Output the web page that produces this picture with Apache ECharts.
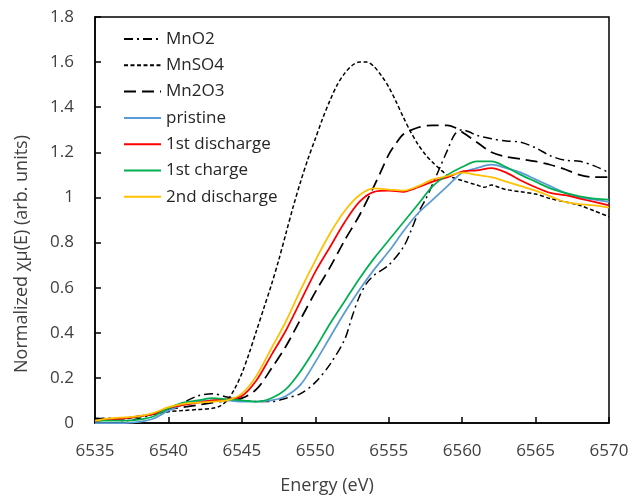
<!DOCTYPE html>
<html>
<head>
<meta charset="utf-8">
<script src="https://cdn.jsdelivr.net/npm/echarts@6/dist/echarts.min.js"></script>
<style>html,body{margin:0;padding:0;background:#fff;}#c{width:633px;height:496px;}</style>
</head>
<body>
<div id="c"></div>
<script>
var seriesNames = ['MnO2', 'MnSO4', 'Mn2O3', 'pristine', '1st discharge', '1st charge', '2nd discharge'];
var xTicks = [6535, 6540, 6545, 6550, 6555, 6560, 6565, 6570];
var yTicks = [0, 0.2, 0.4, 0.6, 0.8, 1, 1.2, 1.4, 1.6, 1.8];
var xTitle = 'Energy (eV)';
var yTitle = 'Normalized χμ(E) (arb. units)';

var energyMnO2 = [6535,6536,6537,6538,6539,6540,6541,6542,6543,6544,6545,6546,6547,6548,6549,6550,6551,6552,6552.5,6553,6553.5,6554,6555,6556,6556.5,6557,6557.5,6558,6558.5,6559,6559.5,6560,6560.5,6561,6562,6563,6564,6565,6566,6567,6568,6569,6570];
var valMnO2 = [0.02,0.02,0.01,0.02,0.04,0.06,0.09,0.12,0.13,0.115,0.10,0.095,0.095,0.11,0.13,0.18,0.26,0.37,0.47,0.56,0.62,0.655,0.70,0.78,0.85,0.93,0.99,1.06,1.135,1.21,1.28,1.30,1.29,1.275,1.26,1.25,1.245,1.22,1.185,1.165,1.16,1.14,1.11];

var energyMnSO4 = [6535,6536,6537,6538,6539,6540,6541,6542,6543,6543.5,6544,6544.5,6545,6545.5,6546,6546.5,6547,6547.5,6548,6548.5,6549,6549.5,6550,6550.5,6551,6551.5,6552,6552.5,6553,6553.5,6554,6554.5,6555,6555.5,6556,6556.5,6557,6557.5,6558,6558.5,6559,6559.5,6560,6561,6561.5,6562,6562.5,6563,6564,6565,6566,6567,6568,6569,6570];
var valMnSO4 = [0.02,0.02,0.02,0.03,0.04,0.05,0.055,0.06,0.065,0.075,0.10,0.15,0.22,0.31,0.41,0.51,0.61,0.72,0.84,0.96,1.07,1.17,1.26,1.35,1.43,1.50,1.55,1.585,1.60,1.60,1.58,1.54,1.49,1.425,1.355,1.29,1.235,1.19,1.155,1.125,1.098,1.085,1.075,1.055,1.045,1.055,1.045,1.035,1.025,1.015,0.995,0.98,0.965,0.94,0.915];

var energyMn2O3 = [6535,6537,6539,6540,6541,6542,6543,6544,6545,6546,6547,6548,6549,6550,6551,6552,6553,6554,6554.5,6555,6555.5,6556,6557,6558,6559,6559.5,6560,6561,6562,6563,6564,6565,6566,6567,6568,6569,6570];
var valMn2O3 = [0.01,0.02,0.04,0.06,0.07,0.08,0.09,0.10,0.11,0.15,0.24,0.34,0.46,0.58,0.69,0.81,0.92,1.05,1.12,1.19,1.24,1.28,1.31,1.32,1.32,1.31,1.29,1.245,1.20,1.18,1.17,1.16,1.145,1.125,1.10,1.09,1.09];

var energy = [6535,6536,6537,6538,6539,6540,6541,6542,6543,6544,6545,6546,6547,6548,6549,6550,6551,6552,6553,6554,6555,6556,6557,6558,6559,6560,6561,6562,6563,6564,6565,6566,6567,6568,6569,6570];
var valPristine = [0.0,0.0,0.0,0.005,0.02,0.055,0.08,0.095,0.10,0.10,0.095,0.095,0.10,0.12,0.17,0.27,0.38,0.49,0.59,0.68,0.76,0.85,0.93,0.99,1.05,1.11,1.13,1.145,1.13,1.11,1.08,1.05,1.02,1.00,0.99,0.98];
var val1stDischarge = [0.01,0.015,0.02,0.03,0.04,0.065,0.08,0.09,0.10,0.105,0.12,0.19,0.30,0.41,0.54,0.67,0.78,0.89,0.98,1.025,1.03,1.025,1.045,1.07,1.09,1.115,1.12,1.13,1.11,1.075,1.045,1.02,1.01,0.995,0.98,0.965];
var val1stCharge = [0.01,0.01,0.01,0.015,0.03,0.065,0.09,0.10,0.11,0.105,0.10,0.095,0.11,0.15,0.23,0.33,0.44,0.54,0.64,0.73,0.81,0.89,0.97,1.05,1.10,1.135,1.16,1.16,1.135,1.10,1.07,1.04,1.02,1.005,0.995,0.99];
var val2ndDischarge = [0.01,0.02,0.025,0.03,0.045,0.07,0.085,0.09,0.095,0.10,0.13,0.21,0.33,0.45,0.59,0.72,0.84,0.94,1.01,1.04,1.035,1.03,1.05,1.08,1.095,1.11,1.10,1.09,1.07,1.05,1.03,1.005,0.98,0.97,0.965,0.955];

function pairs(xs, ys) { return xs.map(function (x, i) { return [x, ys[i]]; }); }

var chart = echarts.init(document.getElementById('c'), null, {renderer: 'canvas'});
var textColor = '#404040';
var fontFam = '"Open Sans", "Noto Sans", sans-serif';

function mk(name, data, color, type, width) {
  return {
    name: name, type: 'line', data: data, symbol: 'none', smooth: 0.3,
    lineStyle: {color: color, width: width, type: type},
    itemStyle: {color: 'rgba(0,0,0,0)', borderWidth: 0},
    emphasis: {disabled: true}, animation: false
  };
}

chart.setOption({
  animation: false,
  backgroundColor: '#fff',
  grid: {left: 95, right: 24, top: 17, bottom: 73, show: true, borderColor: '#000', borderWidth: 1.5, containLabel: false},
  legend: {
    orient: 'vertical', left: 118, top: 25,
    itemWidth: 37, itemHeight: 14, itemGap: 8.3,
    itemStyle: {color: 'rgba(0,0,0,0)', borderWidth: 0, opacity: 0},
    textStyle: {color: '#262626', fontSize: 17, lineHeight: 18, fontFamily: fontFam},
    data: seriesNames
  },
  graphic: [
    {type: 'text', x: 22, y: 254, rotation: Math.PI / 2, silent: true,
      style: {text: yTitle, fill: textColor, font: '18px ' + fontFam, align: 'center', verticalAlign: 'middle'}},
    {type: 'text', x: 327, y: 486, silent: true,
      style: {text: xTitle, fill: textColor, font: '18px ' + fontFam, align: 'center', verticalAlign: 'middle'}}
  ],
  xAxis: {
    type: 'value', min: xTicks[0], max: xTicks[xTicks.length - 1], interval: 5,
    axisLine: {lineStyle: {color: '#000', width: 1.5}},
    axisTick: {inside: true, length: 6, lineStyle: {color: '#000', width: 1.5}},
    axisLabel: {color: textColor, fontSize: 17, fontFamily: fontFam, margin: 20,
      formatter: function (v) { return String(v); }},
    splitLine: {show: false}
  },
  yAxis: {
    type: 'value', min: yTicks[0], max: yTicks[yTicks.length - 1], interval: 0.2,
    axisLine: {lineStyle: {color: '#000', width: 1.5}},
    axisTick: {inside: true, length: 6, lineStyle: {color: '#000', width: 1.5}},
    axisLabel: {color: textColor, fontSize: 17, fontFamily: fontFam, margin: 21,
      formatter: function (v) { return String(Math.round(v * 10) / 10); }},
    splitLine: {show: false}
  },
  series: [
    mk(seriesNames[0], pairs(energyMnO2, valMnO2), '#000', [9, 4, 2, 4], 1.5),
    mk(seriesNames[1], pairs(energyMnSO4, valMnSO4), '#000', [4, 2.5], 1.5),
    mk(seriesNames[2], pairs(energyMn2O3, valMn2O3), '#000', [12, 6], 1.75),
    mk(seriesNames[3], pairs(energy, valPristine), '#5B9BD5', 'solid', 1.75),
    mk(seriesNames[4], pairs(energy, val1stDischarge), '#FF0000', 'solid', 1.75),
    mk(seriesNames[5], pairs(energy, val1stCharge), '#00B050', 'solid', 1.75),
    mk(seriesNames[6], pairs(energy, val2ndDischarge), '#FFC000', 'solid', 1.75)
  ]
});
</script>
</body>
</html>
